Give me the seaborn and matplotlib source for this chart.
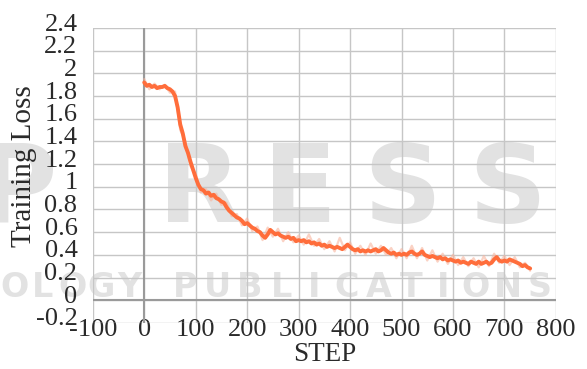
import numpy as np
import pandas as pd
import matplotlib
matplotlib.use('Agg')
import matplotlib.pyplot as plt
import matplotlib.transforms as mtransforms
import seaborn as sns

# smoothed training loss, one value every 5 steps (0..750)
loss_smooth = [
    1.92, 1.89, 1.90, 1.88, 1.89, 1.87, 1.88, 1.88, 1.89, 1.87,
    1.86, 1.84, 1.80, 1.70, 1.55, 1.47, 1.36, 1.30, 1.22, 1.15,
    1.08, 1.02, 0.98, 0.97, 0.94, 0.95, 0.92, 0.93, 0.90, 0.89,
    0.87, 0.86, 0.82, 0.79, 0.77, 0.75, 0.73, 0.72, 0.70, 0.67,
    0.68, 0.66, 0.64, 0.63, 0.61, 0.60, 0.57, 0.55, 0.58, 0.62,
    0.60, 0.58, 0.59, 0.57, 0.56, 0.55, 0.56, 0.54, 0.55, 0.52,
    0.53, 0.52, 0.53, 0.51, 0.52, 0.50, 0.51, 0.49, 0.50, 0.48,
    0.49, 0.47, 0.48, 0.47, 0.46, 0.47, 0.46, 0.45, 0.47, 0.49,
    0.47, 0.45, 0.44, 0.45, 0.43, 0.44, 0.43, 0.44, 0.43, 0.44,
    0.45, 0.43, 0.44, 0.46, 0.44, 0.42, 0.41, 0.42, 0.40, 0.41,
    0.40, 0.41, 0.40, 0.42, 0.43, 0.41, 0.40, 0.41, 0.43, 0.40,
    0.39, 0.38, 0.39, 0.38, 0.37, 0.38, 0.36, 0.37, 0.35, 0.36,
    0.35, 0.34, 0.35, 0.33, 0.34, 0.33, 0.32, 0.34, 0.33, 0.32,
    0.34, 0.32, 0.33, 0.34, 0.32, 0.33, 0.36, 0.38, 0.35, 0.34,
    0.35, 0.34, 0.36, 0.35, 0.34, 0.33, 0.32, 0.30, 0.31, 0.29,
    0.28,
]
steps_smooth = np.arange(0, 755, 5)

# raw (unsmoothed) loss, faint line behind, every 10 steps
loss_raw = [
    1.95, 1.86, 1.91, 1.86, 1.90, 1.83, 1.84, 1.50, 1.40, 1.18,
    1.12, 0.95, 0.98, 0.88, 0.94, 0.84, 0.86, 0.74, 0.76, 0.66,
    0.72, 0.61, 0.65, 0.53, 0.64, 0.56, 0.63, 0.52, 0.60, 0.51,
    0.57, 0.49, 0.58, 0.48, 0.54, 0.45, 0.52, 0.43, 0.55, 0.44,
    0.51, 0.41, 0.48, 0.40, 0.50, 0.41, 0.48, 0.40, 0.46, 0.37,
    0.45, 0.37, 0.48, 0.37, 0.46, 0.35, 0.44, 0.34, 0.41, 0.32,
    0.40, 0.31, 0.38, 0.30, 0.37, 0.29, 0.39, 0.30, 0.41, 0.33,
    0.39, 0.31, 0.38, 0.29, 0.33, 0.26,
]
steps_raw = np.arange(0, 760, 10)

x_ticks = [-100, 0, 100, 200, 300, 400, 500, 600, 700, 800]
y_ticks = [-0.2, 0, 0.2, 0.4, 0.6, 0.8, 1, 1.2, 1.4, 1.6, 1.8, 2, 2.2, 2.4]
y_labels = ['-0.2', '0', '0.2', '0.4', '0.6', '0.8', '1', '1.2', '1.4',
            '1.6', '1.8', '2', '2.2', '2.4']

# publisher watermark behind the chart
wm_big = ['P', 'R', 'E', 'S', 'S']
wm_big_x = [0.03, 0.341, 0.511, 0.685, 0.865]
wm_small = list('OLOGY') + list('PUBLICATIONS')
wm_small_x = [0.024, 0.073, 0.123, 0.172, 0.221] + \
    [0.315, 0.370, 0.425, 0.480, 0.535, 0.590, 0.645, 0.700, 0.755, 0.810,
     0.865, 0.920]

df_s = pd.DataFrame({'step': steps_smooth, 'loss': loss_smooth})
df_r = pd.DataFrame({'step': steps_raw, 'loss': loss_raw})

sns.set_style('white')
plt.rcParams['font.family'] = ['Liberation Serif', 'DejaVu Serif']

fig = plt.figure(figsize=(5.87, 3.69), dpi=100)
ax = fig.add_axes([0.158, 0.125, 0.789, 0.799])
ax.patch.set_alpha(0)

wm = '#e2e2e2'
for ch, xp in zip(wm_big, wm_big_x):
    fig.text(xp, 0.398, ch, ha='center', va='baseline', fontsize=78,
             fontweight='bold', color=wm, family='DejaVu Sans', zorder=-1)
for ch, xp in zip(wm_small, wm_small_x):
    fig.text(xp, 0.195, ch, ha='center', va='baseline', fontsize=24,
             fontweight='bold', color=wm, family='DejaVu Sans', zorder=-1)

sns.lineplot(data=df_r, x='step', y='loss', ax=ax, color='#f7b49e',
             lw=1.6, alpha=0.6, zorder=3)
sns.lineplot(data=df_s, x='step', y='loss', ax=ax, color='#ff6d3b',
             lw=2.8, zorder=4)

ax.set_xlim(-100, 800)
ax.set_ylim(-0.2, 2.4)
ax.set_xticks(x_ticks)
ax.set_xticklabels([str(t) for t in x_ticks])
ax.set_yticks(y_ticks)
ax.set_yticklabels(y_labels)
ax.grid(True, color='#c6c6c6', lw=1)
ax.axvline(0, color='#9a9a9a', lw=1.5, zorder=2)
ax.axhline(0, color='#9a9a9a', lw=1.5, zorder=2)
for s in ax.spines.values():
    s.set_visible(False)
ax.tick_params(axis='both', length=0, labelsize=19, colors='#2a2a2a')
ax.tick_params(axis='x', pad=-3)
ax.tick_params(axis='y', pad=11)
off = mtransforms.ScaledTranslation(0, 6 / 100, fig.dpi_scale_trans)
for lab in ax.get_yticklabels():
    lab.set_transform(lab.get_transform() + off)

ax.set_xlabel('STEP', fontsize=19.5, color='#2a2a2a', labelpad=1)
ax.set_ylabel('Training Loss', fontsize=21, color='#2a2a2a')
ax.yaxis.set_label_coords(-0.121, 0.532)

fig.savefig('out.png', dpi=100)
